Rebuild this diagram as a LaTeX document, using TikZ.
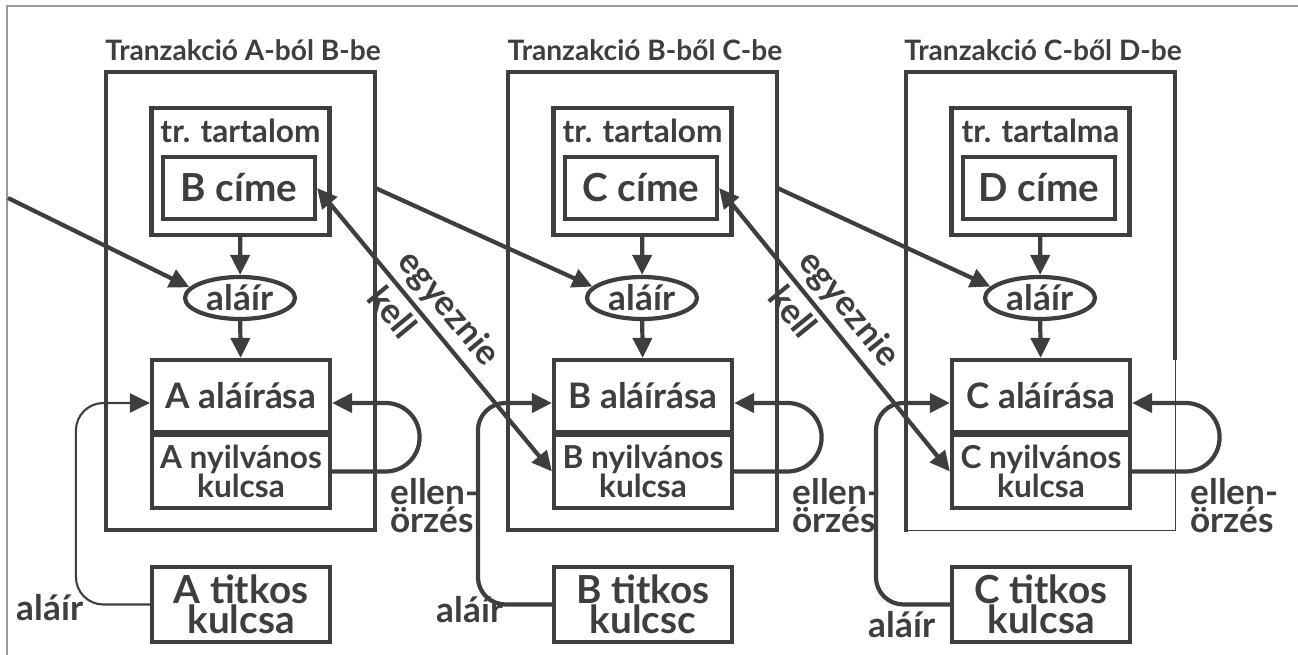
\documentclass[tikz,border=0pt]{standalone}
\usepackage{fontspec}
\setmainfont{Lato}
\usetikzlibrary{arrows.meta,shapes.geometric}
\definecolor{ink}{HTML}{3E3E3E}
\newcommand\fntbox{\bfseries\fontsize{20}{17}\selectfont}
\newcommand\fntkey{\bfseries\fontsize{18}{16.5}\selectfont}
\newcommand\fntbig{\bfseries\fontsize{22}{17}\selectfont}
\newcommand\fnttitle{\bfseries\fontsize{16}{18}\selectfont}
\newcommand\fntnote{\bfseries\fontsize{20}{16}\selectfont}
\tikzset{
  box/.style={draw=ink, line width=2.4pt, text=ink, font=\fntbox, inner sep=0pt, align=center, minimum width=3.56cm},
  frame/.style={inner sep=0pt, minimum width=5.38cm, minimum height=9.16cm},
  edge/.style={draw=ink, line width=2.4pt, line cap=rect},
  seal/.style={ellipse, draw=ink, line width=2.4pt, text=ink, font=\fntbox, inner sep=0pt, minimum width=2.2cm, minimum height=0.84cm},
  tag/.style={text=ink, font=\fntnote, inner sep=0pt, align=left},
  link/.style={draw=ink, line width=2.4pt, -{Triangle[length=0.4cm,width=0.38cm]}},
}
\begin{document}
\begin{tikzpicture}[x=0.02cm,y=-0.02cm]
\useasboundingbox (0,0) rectangle (1298,655);
\draw[gray!80, line width=0.8pt] (7,655) -- (7,6) -- (1298,6);

\foreach \i/\ox/\title/\tr/\own/\nxt/\kul/\lx/\ly/\sw/\fw in {
  1/0/{Tranzakció A-ból B-be}/tartalom/A/B/kulcsa/50/608/1.2pt/2.4pt,
  2/402/{Tranzakció B-ből C-be}/tartalom/B/C/kulcsc/470/610/2.4pt/2.4pt,
  3/800/{Tranzakció C-ből D-be}/tartalma/C/D/kulcsa/902/625/2.4pt/0.9pt}{
  % one transaction
  \node[frame] (out\i) at (240.5+\ox,301) {};
  \node[text=ink, font=\fnttitle, inner sep=0pt] (tit\i) at (243+\ox,50) {\title};
  \node[box, minimum height=2.54cm] (tr\i) at (240.5+\ox,171.5) {};
  \node[tag, font=\fntkey] (trl\i) at (240.5+\ox,131) {tr. \tr};
  \node[box, font=\fntbig, minimum width=3.04cm, minimum height=1.24cm] (cime\i) at (239+\ox,188) {\nxt\ címe};
  \node[seal] (sig\i) at (240+\ox,298) {aláír};
  \node[box, minimum height=1.44cm] (ala\i) at (241+\ox,396) {\own\ aláírása};
  \node[box, font=\fntkey, minimum height=1.46cm] (nyil\i) at (241+\ox,471.5) {\own\ nyilvános\\kulcsa};
  \node[box, font=\fntbig, minimum height=1.5cm] (tk\i) at (241+\ox,604.5) {\own\ titkos\\\kul};
  \node[tag] (al\i) at (\lx,\ly) {aláír};
  \node[tag] (ell\i) at ([xshift=2.05cm,yshift=-0.68cm]nyil\i.east) {ellen-\\örzés};
  \draw[edge] (out\i.south west) -- (out\i.north west) -- (out\i.north east) -- (out\i.east |- ala\i.north);
  \draw[edge, line width=\fw] (out\i.east |- ala\i.north) -- (out\i.south east) -- (out\i.south west);
  \draw[link] (tr\i) -- (sig\i);
  \draw[link] (sig\i) -- (ala\i);
  \draw[link, line width=\sw, rounded corners=0.55cm] (tk\i.west) -| ([xshift=-1.48cm,yshift=-0.14cm]ala\i.west) -- ([yshift=-0.14cm]ala\i.west);
  \draw[link, rounded corners=0.68cm] (nyil\i.east) -| ([xshift=1.75cm,yshift=-0.14cm]ala\i.east) -- ([yshift=-0.14cm]ala\i.east);
}

% chain between transactions
\coordinate (in0) at (8,198);
\draw[link] (in0) -- (sig1.168);
\foreach \a/\b in {1/2, 2/3}{
  \draw[link] (out\a.east |- cime\a) -- (sig\b.167);
  \draw[link, {Triangle[length=0.4cm,width=0.38cm]}-{Triangle[length=0.4cm,width=0.38cm]}] (cime\a.east) -- (nyil\b.west)
    node[tag, sloped, above=3pt, pos=0.48] (egy\a) {egyeznie}
    node[tag, sloped, below=3pt, pos=0.39] (kell\a) {kell};
}
\end{tikzpicture}
\end{document}
